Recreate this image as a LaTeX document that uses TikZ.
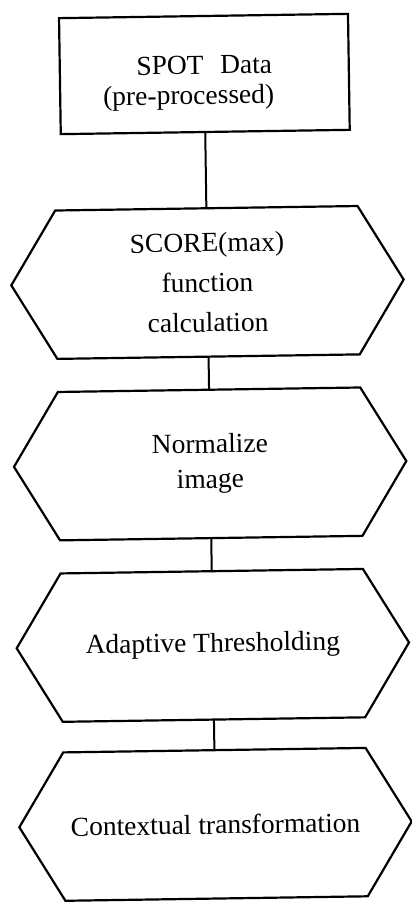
\documentclass[tikz,border=0pt]{standalone}
\usepackage{fontspec}
\setmainfont{Liberation Serif}
\newcommand{\hexoutline}[1]{\draw[outline] (#1.north west) -- (#1.north east) -- ([xshift=45pt]#1.east) -- (#1.south east) -- (#1.south west) -- ([xshift=-45pt]#1.west) -- cycle;}
\begin{document}
\begin{tikzpicture}[x=1pt,y=-1pt,
  outline/.style={line width=2.2pt, line join=miter},
  txt/.style={font=\fontsize{27.5}{30}\selectfont, align=center, inner sep=0pt},
  rectbox/.style={draw, outline, minimum width=289pt, minimum height=116pt, inner sep=0pt},
  hexbox/.style={txt, minimum width=302pt, minimum height=148pt},
  link/.style={line width=2pt}]
\useasboundingbox (0,0) rectangle (412,906);
\fill[white] (0,0) rectangle (412,906);
\begin{scope}[rotate around={0.85:(206,453)}, transform shape]
\node[rectbox] (src) at (210,74) {};
\node[txt] (srctext) at (210,83) {SPOT\hspace{0.6em}Data\\[0pt]\hspace*{-32pt}(pre-processed)};
\node[hexbox] (h1) at (210,282.5) {\raisebox{0pt}{SCORE(max)}\\[10pt]function\\[10pt]calculation};
\node[hexbox] (h2) at (210,464) {Normalize\\[5pt]image};
\node[hexbox] (h3) at (210,645.5) {Adaptive Thresholding};
\node[hexbox] (h4) at (210,824.5) {Contextual transformation};
\hexoutline{h1}
\hexoutline{h2}
\hexoutline{h3}
\hexoutline{h4}
\draw[link] (src.south) -- (h1.north);
\draw[link] (h1.south) -- (h2.north);
\draw[link] (h2.south) -- (h3.north);
\draw[link] (h3.south) -- (h4.north);
\end{scope}
\end{tikzpicture}
\end{document}
